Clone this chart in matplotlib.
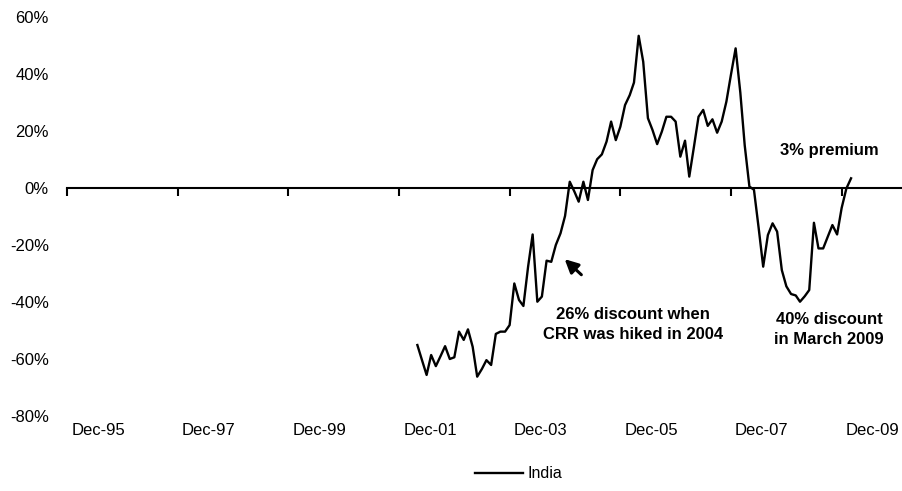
import pandas as pd
import matplotlib
matplotlib.use('Agg')
import matplotlib.pyplot as plt

plt.rcParams['font.family'] = ['Liberation Sans', 'DejaVu Sans']

# India premium / discount, monthly, Apr-02 to Feb-10 (%)
premium = [
    -55.1, -60.3, -65.6, -58.6, -62.5, -59.0, -55.5, -60.0, -59.4, -50.4,
    -53.3, -49.6, -55.7, -66.2, -63.5, -60.4, -62.1, -51.2, -50.4, -50.4,
    -48.1, -33.5, -39.3, -41.4, -27.6, -16.3, -39.9, -38.1, -25.5, -25.9,
    -20.0, -15.9, -9.8, 2.2, -1.3, -4.8, 2.2, -4.2, 6.3, 10.1,
    11.8, 16.3, 23.3, 16.8, 21.5, 29.1, 32.6, 37.0, 53.4, 44.3,
    24.5, 20.4, 15.4, 19.8, 25.0, 25.0, 23.3, 11.0, 16.6, 4.0,
    14.5, 25.0, 27.4, 21.8, 24.1, 19.4, 23.3, 30.3, 39.7, 49.0,
    33.5, 15.0, 0.5, -0.6, -14.0, -27.6, -16.5, -12.4, -15.3, -28.8,
    -34.5, -37.2, -37.7, -39.9, -38.0, -35.8, -12.2, -21.2, -21.2, -17.0,
    -13.0, -16.3, -7.0, -0.2, 3.4,
]
months = pd.date_range('2002-04-01', periods=len(premium), freq='MS')

tick_labels = ['Dec-95', 'Dec-97', 'Dec-99', 'Dec-01', 'Dec-03', 'Dec-05', 'Dec-07', 'Dec-09']
tick_dates = pd.to_datetime(['1995-12-01', '1997-12-01', '1999-12-01', '2001-12-01',
                             '2003-12-01', '2005-12-01', '2007-12-01', '2009-12-01'])
y_ticks = [60, 40, 20, 0, -20, -40, -60, -80]

crr_idx = 29      # Sep-04, CRR hike
trough_idx = 83   # Mar-09

fig = plt.figure(figsize=(9.03, 4.91), dpi=100)
ax = fig.add_axes([67 / 903, 75 / 491, 836 / 903, 399 / 491])

ax.plot(months, premium, color='black', lw=1.7, label='India')

ax.set_ylim(-80, 60)
ax.set_xlim(pd.Timestamp('1995-12-01'), pd.Timestamp('2011-01-10'))

# zero line acts as the category axis
for side in ['top', 'right', 'left']:
    ax.spines[side].set_visible(False)
ax.spines['bottom'].set_position(('data', 0))
ax.spines['bottom'].set_linewidth(1.5)

ax.set_xticks(tick_dates)
ax.tick_params(axis='x', direction='out', length=6, width=1.5, labelbottom=False)
for d, lab in zip(tick_dates, tick_labels):
    ax.annotate(lab, xy=(d, 0), xycoords=('data', 'axes fraction'),
                xytext=(3, -10.5), textcoords='offset points',
                ha='left', va='center', fontsize=12)

ax.set_yticks(y_ticks)
ax.set_yticklabels([f'{v}%' for v in y_ticks])
ax.tick_params(axis='y', length=0, pad=13, labelsize=12)

# call-outs
ax.annotate('3% premium', xy=(months[-1], premium[-1]), xytext=(-16, 20),
            textcoords='offset points', ha='center', va='center',
            fontsize=12, fontweight='bold')
ax.annotate('40% discount\nin March 2009', xy=(months[trough_idx], premium[trough_idx]),
            xytext=(21, -20), textcoords='offset points', ha='center', va='center',
            fontsize=12, fontweight='bold', linespacing=1.4)
ax.annotate('26% discount when\nCRR was hiked in 2004', xy=(months[crr_idx], premium[crr_idx]),
            xytext=(59, -45), textcoords='offset points', ha='center', va='center',
            fontsize=12, fontweight='bold', linespacing=1.4)
ax.annotate('', xy=(pd.Timestamp('2004-11-15'), -24.3), xytext=(pd.Timestamp('2005-04-01'), -31.1),
            arrowprops=dict(arrowstyle='-|>', color='black', lw=2.2, mutation_scale=20))

fig.legend(loc='center', bbox_to_anchor=(519 / 903, 17 / 491), frameon=False,
           fontsize=11.5, handlelength=3.0, handletextpad=0.3, borderpad=0)

fig.savefig('out.png', dpi=100, facecolor='white')
